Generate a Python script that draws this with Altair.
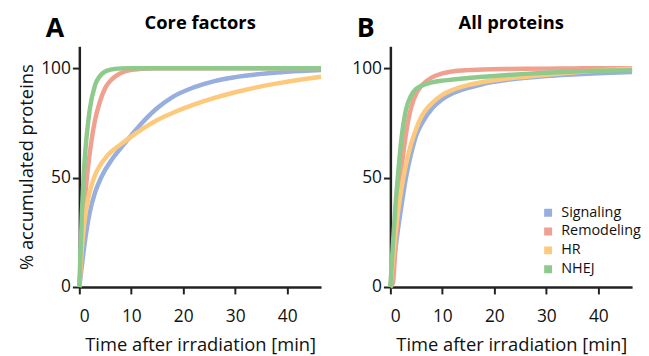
import altair as alt
import pandas as pd

# time grid (min)
time_min = [0, 0.5, 1, 1.5, 2, 3, 4, 5, 6, 8, 10, 12, 15, 18, 22, 26, 30, 35, 40, 46.5]
series = ["Signaling", "Remodeling", "HR", "NHEJ"]
colors = ["#97aedf", "#f0a08e", "#fdca7d", "#8dca8c"]

# Panel A: core factors (% accumulated)
core_signaling = [0, 10, 19.5, 27.5, 34, 43, 49, 53.6, 57.4, 63.6, 69.3, 74.8, 81.8, 86.9, 91.2, 94.1, 95.9, 97.4, 98.3, 99.1]
core_remodeling = [0, 21, 38, 51, 61, 76, 85, 91, 94.3, 97.8, 99.2, 99.7, 100, 100, 100, 100, 100, 100, 100, 100]
core_hr = [0, 18, 30, 38, 43.5, 51, 55.6, 58.9, 61.5, 65.2, 68.7, 72, 76.3, 79.6, 83.3, 86.4, 89, 91.7, 93.8, 96.1]
core_nhej = [0, 34, 57, 71, 81, 92, 96.5, 98.5, 99.3, 99.9, 100, 100, 100, 100, 100, 100, 100, 100, 100, 100]

# Panel B: all proteins (% accumulated)
all_signaling = [0, 8, 18, 27, 35, 50, 61, 69.5, 74.5, 81.5, 85.8, 88.5, 91, 92.9, 94.5, 95.6, 96.4, 97.1, 97.7, 98.3]
all_remodeling = [0, 2, 20, 37, 51, 70, 82, 88.5, 92, 95.8, 97.6, 98.5, 99.1, 99.4, 99.6, 99.7, 99.8, 99.9, 100, 100]
all_hr = [0, 13, 25, 35, 43, 56, 65.5, 72.5, 78, 84, 87.8, 90.1, 92.3, 93.8, 95.1, 96.1, 97, 98, 98.9, 99.7]
all_nhej = [0, 20, 38, 52, 65, 81, 87.5, 90.6, 92, 93.5, 94.3, 94.8, 95.5, 96.1, 96.8, 97.4, 97.9, 98.4, 98.8, 99.1]

FONT = "Open Sans"
INK = "#111111"


def make_df(vals):
    rows = []
    for k, (name, v) in enumerate(zip(series, vals)):
        for t, y in zip(time_min, v):
            rows.append({"t": t, "v": y, "series": name, "k": k})
    return pd.DataFrame(rows)


def panel(df, title, letter, ytitle, legend):
    x = alt.X(
        "t:Q",
        scale=alt.Scale(domain=[0, 46.5], nice=False),
        axis=alt.Axis(values=[0, 10, 20, 30, 40], title="Time after irradiation [min]",
                      labelPadding=14, titlePadding=11),
    )
    y = alt.Y(
        "v:Q",
        scale=alt.Scale(domain=[0, 110], nice=False),
        axis=alt.Axis(values=[0, 50, 100], title=ytitle if ytitle else None,
                      labelPadding=2, titlePadding=4),
    )
    color = alt.Color(
        "series:N",
        scale=alt.Scale(domain=series, range=colors),
        legend=legend,
    )
    lines = alt.Chart(df).mark_line(strokeWidth=4.5, interpolate="monotone").encode(
        x=x, y=y, color=color, detail="series:N", order="k:Q"
    )
    lab = pd.DataFrame({"letter": [letter], "title": [title]})
    letter_txt = alt.Chart(lab).mark_text(
        align="left", baseline="alphabetic", font=FONT, fontSize=27, fontWeight="bold", color="#000"
    ).encode(text="letter:N", x=alt.value(-34), y=alt.value(-9.5))
    title_txt = alt.Chart(lab).mark_text(
        align="center", baseline="alphabetic", font=FONT, fontSize=18.5, fontWeight="bold", color="#000"
    ).encode(text="title:N", x=alt.value(122), y=alt.value(-17))
    return alt.layer(lines, letter_txt, title_txt).properties(width=244, height=243)


legend_b = alt.Legend(
    title=None, orient="none", legendX=152, legendY=161,
    symbolType="square", symbolSize=9, symbolStrokeWidth=5,
    labelFont=FONT, labelFontSize=14.5, labelColor=INK, labelOffset=6,
    clipHeight=14, rowPadding=4,
)

left = panel(make_df([core_signaling, core_remodeling, core_hr, core_nhej]),
             "Core factors", "A", "% accumulated proteins", None)
right = panel(make_df([all_signaling, all_remodeling, all_hr, all_nhej]),
              "All proteins", "B", None, legend_b)

chart = alt.hconcat(left, right, spacing=21).resolve_scale(color="independent").properties(
    padding={"left": 9, "top": 5, "right": 0, "bottom": 0}
).configure_view(stroke=None).configure_axis(
    grid=False,
    labelFont=FONT, titleFont=FONT, labelFontSize=17.5, titleFontSize=18.5,
    titleFontWeight="normal", labelColor=INK, titleColor=INK,
    domainColor="#222222", domainWidth=2.5, tickColor="#222222", tickWidth=2, tickSize=7,
)

chart.save("out.html", embed_options={"renderer": "svg", "actions": False})
